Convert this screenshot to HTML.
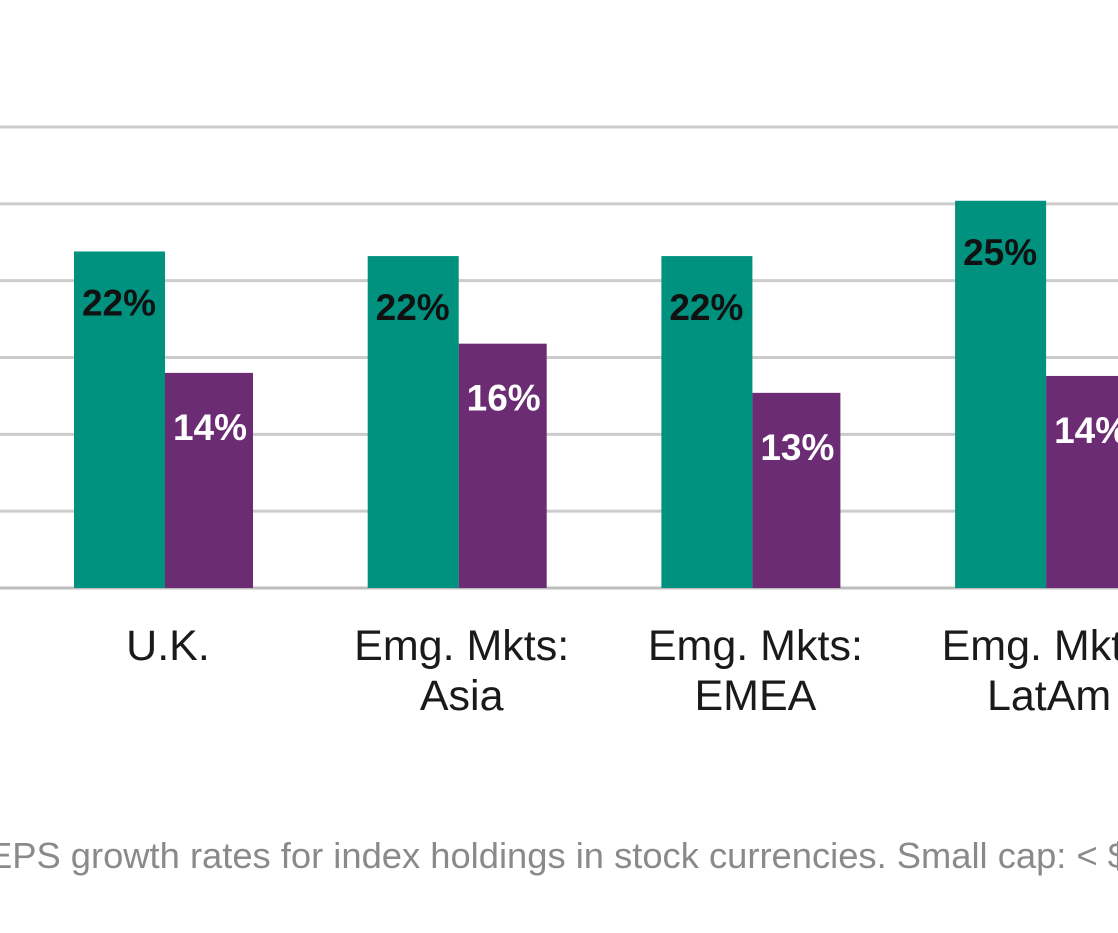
<!DOCTYPE html>
<html><head><meta charset="utf-8">
<style>
html,body{margin:0;padding:0;background:#fff;width:1118px;height:933px;overflow:hidden;}
svg{display:block;font-family:"Liberation Sans",Arial,sans-serif;}
</style></head>
<body>
<svg id="chart" width="1118" height="933" viewBox="0 0 1118 933">
  <g id="grid"></g>
  <g id="bars"></g>
  <g id="xlabels"></g>
  <text x="-12" y="868" font-size="36" fill="#8a8a8a" textLength="1140" lengthAdjust="spacingAndGlyphs">EPS growth rates for index holdings in stock currencies. Small cap: &lt; $</text>
</svg>
<script>
const categories = [["U.K."], ["Emg. Mkts:", "Asia"], ["Emg. Mkts:", "EMEA"], ["Emg. Mkts:", "LatAm"]];
const seriesA = [21.9, 21.6, 21.6, 25.2];
const seriesB = [14.0, 15.9, 12.7, 13.8];
const labelsA = ["22%", "22%", "22%", "25%"];
const labelsB = ["14%", "16%", "13%", "14%"];
const gridTicks = [0, 5, 10, 15, 20, 25, 30];

const NS = "http://www.w3.org/2000/svg";
const baseY = 588, topY = 127, maxV = 30;
const y = v => baseY - (v / maxV) * (baseY - topY);
const groupX = i => 165 + i * 293.7;
const barW = 90;

function mk(tag, attrs, parent) {
  const e = document.createElementNS(NS, tag);
  for (const k in attrs) e.setAttribute(k, attrs[k]);
  parent.appendChild(e);
  return e;
}
const grid = document.getElementById("grid");
gridTicks.forEach(t => {
  const l = mk("line", {x1: 0, x2: 1118, y1: y(t), y2: y(t), stroke: t === 0 ? "#bdbdbd" : "#cccccc", "stroke-width": 3}, grid);
  
  
});
const bars = document.getElementById("bars");
const xl = document.getElementById("xlabels");
categories.forEach((c, i) => {
  const cx = groupX(i);
  const ra = mk("rect", {x: cx - barW - 1, y: y(seriesA[i]), width: barW + 1, height: baseY - y(seriesA[i]), fill: "#00917f"}, bars);
  
  
  const rb = mk("rect", {x: cx, y: y(seriesB[i]), width: barW - 2, height: baseY - y(seriesB[i]), fill: "#6b2c74"}, bars);
  
  
  const ta = mk("text", {x: cx - barW / 2 - 1, y: y(seriesA[i]) + 64, "text-anchor": "middle", "font-size": 37, "font-weight": "bold", fill: "#111"}, bars);
  ta.textContent = labelsA[i];
  
  
  const tb = mk("text", {x: cx + barW / 2, y: y(seriesB[i]) + 67, "text-anchor": "middle", "font-size": 37, "font-weight": "bold", fill: "#fff"}, bars);
  tb.textContent = labelsB[i];
  
  
  c.forEach((line, j) => {
    const t = mk("text", {x: cx + 3, y: 660 + j * 50, "text-anchor": "middle", "font-size": 43, fill: "#1a1a1a"}, xl);
    t.textContent = line;
    
    
  });
});
</script>
</body></html>
